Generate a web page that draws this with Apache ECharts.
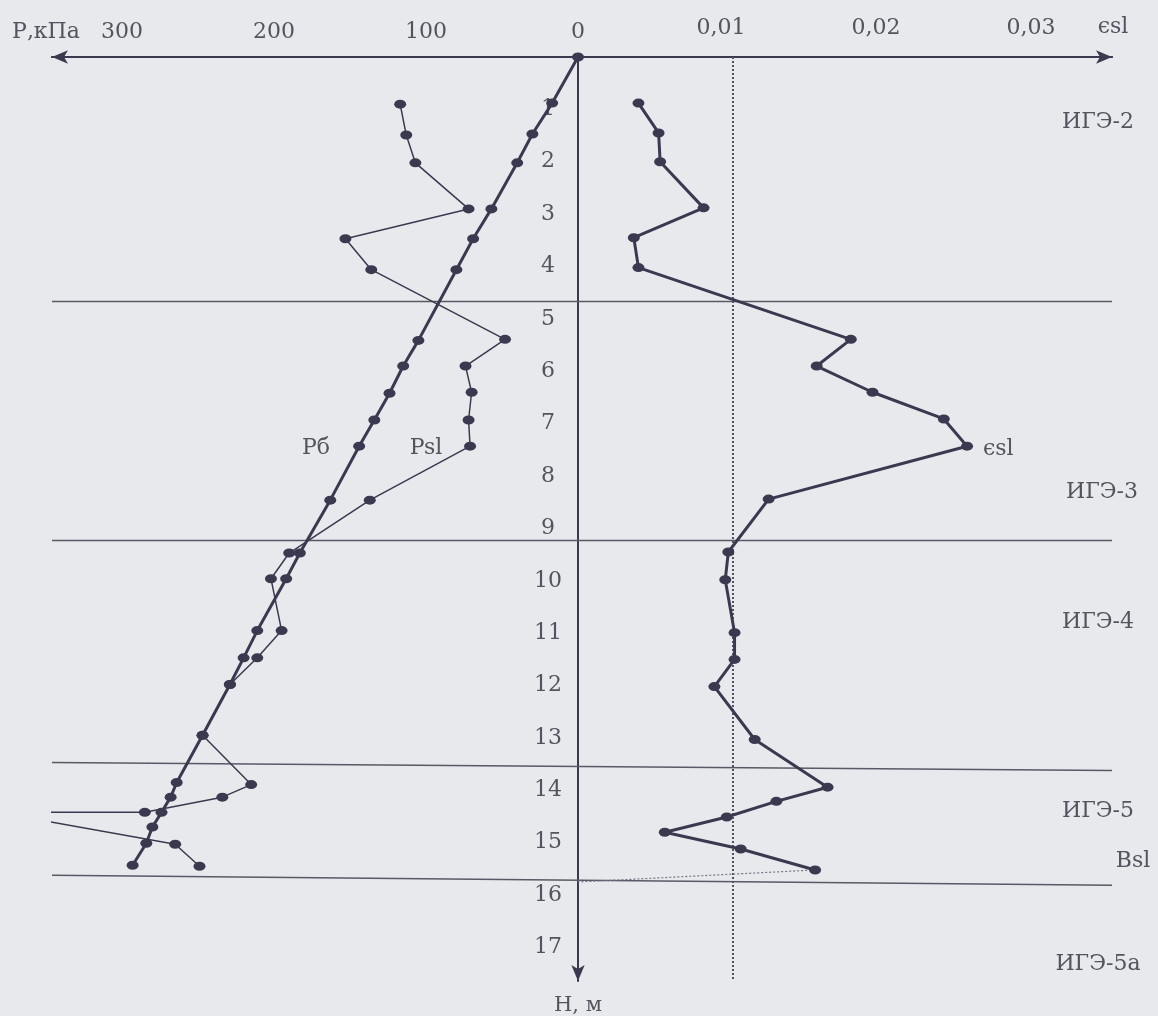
<!DOCTYPE html>
<html>
<head>
<meta charset="utf-8">
<script src="https://cdn.jsdelivr.net/npm/echarts@6/dist/echarts.min.js"></script>
<style>
  html, body { margin: 0; background: #e8e9ed; }
  #chart { width: 1158px; height: 1016px; }
</style>
</head>
<body>
<div id="chart"></div>
<script>
// Рб - бытовое давление, кПа (левая полуось)
const depthP = [0, 0.88, 1.47, 2.02, 2.90, 3.47, 4.06, 5.41, 5.90, 6.42, 6.93, 7.43, 8.46, 9.47, 9.96, 10.95, 11.47, 11.98, 12.95, 13.85, 14.13, 14.42, 14.70, 15.01, 15.43];
const pB = [0, 17, 30, 40, 57, 69, 80, 105, 115, 124, 134, 144, 163, 183, 192, 211, 220, 229, 247, 264, 268, 274, 280, 284, 293];

// Psl - начальное просадочное давление, кПа
const depthPsl = [0.90, 1.49, 2.02, 2.90, 3.47, 4.06, 5.39, 5.90, 6.40, 6.93, 7.43, 8.46, 9.47, 9.96, 10.95, 11.47, 11.98, 12.95, 13.89, 14.13, 14.42, 14.42, 15.03, 15.45];
const pSl = [117, 113, 107, 72, 153, 136, 48, 74, 70, 72, 71, 137, 190, 202, 195, 211, 229, 247, 215, 234, 285, 382, 265, 249];

// ϵsl - относительная просадочность (правая полуось)
const depthEps = [0.88, 1.45, 2.00, 2.88, 3.45, 4.02, 5.39, 5.90, 6.40, 6.91, 7.43, 8.44, 9.45, 9.98, 10.99, 11.50, 12.02, 13.03, 13.94, 14.21, 14.51, 14.80, 15.12, 15.52];
const epsSl = [0.0039, 0.0052, 0.0053, 0.0081, 0.0036, 0.0039, 0.0176, 0.0154, 0.0190, 0.0236, 0.0251, 0.0123, 0.0097, 0.0095, 0.0101, 0.0101, 0.0088, 0.0114, 0.0161, 0.0128, 0.0096, 0.0056, 0.0105, 0.0153];

// Bsl - нижняя граница просадочной толщи
const bslLine = [[0.0153, 15.52], [0, 15.75]];
const epsLimit = 0.01;

// границы ИГЭ (глубина слева, справа)
const layerBounds = [[4.67, 4.67], [9.23, 9.23], [13.47, 13.62], [15.62, 15.81]];

const pTicks = [0, 100, 200, 300];
const epsTicks = [0.01, 0.02, 0.03];
const depthTicks = [1, 2, 3, 4, 5, 6, 7, 8, 9, 10, 11, 12, 13, 14, 15, 16, 17];
const depthMax = 17.64;

const layerNames = [
  { text: 'ИГЭ-2', x: 1098, y: 122 },
  { text: 'ИГЭ-3', x: 1102, y: 492 },
  { text: 'ИГЭ-4', x: 1098, y: 622 },
  { text: 'ИГЭ-5', x: 1098, y: 811 },
  { text: 'Bsl', x: 1133, y: 861 },
  { text: 'ИГЭ-5а', x: 1098, y: 964 }
];

const FONT = '"DejaVu Serif", "Liberation Serif", serif';
const TXT = '#55535f';
const INK = '#3b3950';

const zip = (xs, ys) => xs.map((v, i) => [v, ys[i]]);

const txt = (text, x, y, align, size) => ({
  type: 'text',
  x, y,
  silent: true,
  style: {
    text,
    fill: TXT,
    font: (size || 22) + 'px ' + FONT,
    align: align || 'center',
    textAlign: align || 'center',
    verticalAlign: 'middle',
    textVerticalAlign: 'middle'
  }
});

// у обращённых осей стрелка рисуется в начале линии
const arrowLine = (inverse) => ({
  onZero: false,
  symbol: inverse ? ['arrow', 'none'] : ['none', 'arrow'],
  symbolSize: [10, 16],
  lineStyle: { color: INK, width: 2 }
});

const dotStyle = { color: INK };

const option = {
  animation: false,
  backgroundColor: '#e8e9ed',
  grid: { left: 52, right: 46, top: 57, bottom: 33 },
  xAxis: [
    {
      // P, кПа: растёт влево от 0
      type: 'value',
      position: 'top',
      inverse: true,
      min: -351.3,
      max: 346.05,
      axisLine: arrowLine(true),
      axisTick: { show: false },
      splitLine: { show: false },
      axisLabel: {
        customValues: pTicks,
        margin: 14,
        fontFamily: FONT,
        fontSize: 22,
        color: TXT
      }
    },
    {
      // ϵsl: растёт вправо от 0
      type: 'value',
      position: 'top',
      min: -0.033935,
      max: 0.034452,
      axisLine: arrowLine(false),
      axisTick: { show: false },
      splitLine: { show: false },
      axisLabel: {
        customValues: epsTicks,
        margin: 18,
        padding: [0, 24, 0, 0],
        fontFamily: FONT,
        fontSize: 22,
        color: TXT,
        formatter: (v) => String(v).replace('.', ',')
      }
    },
    { type: 'value', min: 0, max: 1, show: false }
  ],
  yAxis: {
    // ось глубин проходит через P = 0
    type: 'value',
    position: 'left',
    offset: -526,
    inverse: true,
    min: 0,
    max: depthMax,
    name: 'Н, м',
    nameLocation: 'end',
    nameGap: 14,
    nameTextStyle: { fontFamily: FONT, fontSize: 21, color: TXT },
    axisLine: arrowLine(true),
    axisTick: { show: false },
    splitLine: { show: false },
    axisLabel: {
      customValues: depthTicks,
      margin: 30,
      align: 'center',
      fontFamily: FONT,
      fontSize: 22,
      color: TXT
    }
  },
  graphic: [
    txt('Р,кПа', 46, 32),
    txt('ϵsl', 1113, 27),
    txt('Рб', 316, 448),
    txt('Psl', 426, 448),
    txt('ϵsl', 983, 449, 'left')
  ].concat(layerNames.map((l) => txt(l.text, l.x, l.y, 'center', 22))),
  series: [
    ...layerBounds.map((b) => ({
      type: 'line',
      xAxisIndex: 2,
      data: [[0, b[0]], [1, b[1]]],
      symbol: 'none',
      silent: true,
      z: 1,
      lineStyle: { color: '#5a5866', width: 1.5 }
    })),
    {
      type: 'line',
      xAxisIndex: 1,
      data: [[epsLimit, 0], [epsLimit, depthMax]],
      symbol: 'none',
      silent: true,
      z: 1,
      lineStyle: { color: '#55535f', width: 2, type: [2, 2] }
    },
    {
      type: 'line',
      xAxisIndex: 1,
      data: bslLine,
      symbol: 'none',
      silent: true,
      z: 1,
      lineStyle: { color: '#77758a', width: 1.2, type: [2, 2] }
    },
    {
      name: 'Рб',
      type: 'line',
      xAxisIndex: 0,
      data: zip(pB, depthP),
      symbol: 'circle',
      symbolSize: [12, 9],
      itemStyle: dotStyle,
      lineStyle: { color: INK, width: 3 },
      z: 3
    },
    {
      name: 'Psl',
      type: 'line',
      xAxisIndex: 0,
      data: zip(pSl, depthPsl),
      symbol: 'circle',
      symbolSize: [12, 9],
      itemStyle: dotStyle,
      lineStyle: { color: INK, width: 1.5 },
      z: 3
    },
    {
      name: 'ϵsl',
      type: 'line',
      xAxisIndex: 1,
      data: zip(epsSl, depthEps),
      symbol: 'circle',
      symbolSize: [12, 9],
      itemStyle: dotStyle,
      lineStyle: { color: INK, width: 3 },
      z: 3
    }
  ]
};

const myChart = echarts.init(document.getElementById('chart'));
myChart.setOption(option);
</script>
</body>
</html>
